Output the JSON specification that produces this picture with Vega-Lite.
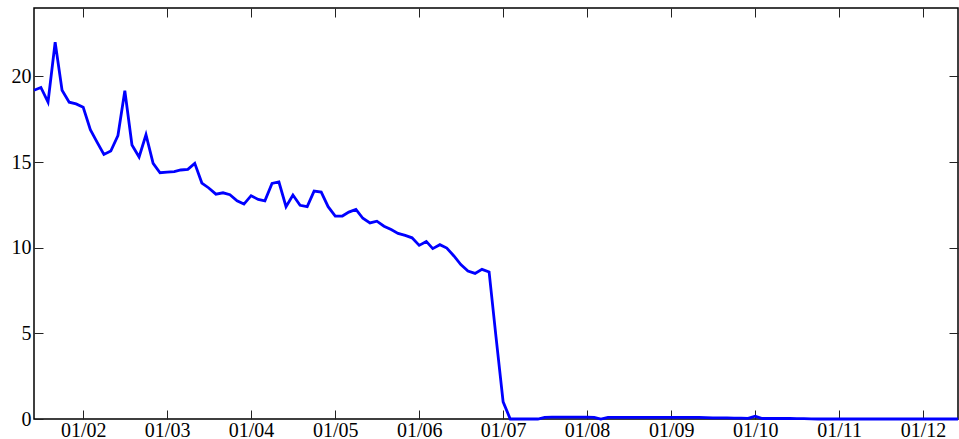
{
  "$schema": "https://vega.github.io/schema/vega-lite/v6.json",
  "width": 924,
  "height": 411,
  "autosize": {"type": "none"},
  "padding": {"left": 34, "top": 8, "right": 1, "bottom": 20},
  "background": "white",
  "config": {
    "view": {"stroke": "black", "strokeWidth": 1.5},
    "axis": {
      "domain": false,
      "grid": false,
      "ticks": true,
      "tickSize": -9,
      "tickWidth": 1,
      "tickColor": "#222222",
      "labelFont": "Liberation Serif",
      "labelFontSize": 20,
      "labelColor": "black",
      "title": null
    }
  },
  "data": {
    "values": [
      {"date": "2001-06-01", "value": 19.2},
      {"date": "2001-07-01", "value": 19.36},
      {"date": "2001-08-01", "value": 18.5},
      {"date": "2001-09-01", "value": 22.0},
      {"date": "2001-10-01", "value": 19.2},
      {"date": "2001-11-01", "value": 18.5},
      {"date": "2001-12-01", "value": 18.4},
      {"date": "2002-01-01", "value": 18.2},
      {"date": "2002-02-01", "value": 16.9},
      {"date": "2002-03-01", "value": 16.2},
      {"date": "2002-04-01", "value": 15.45},
      {"date": "2002-05-01", "value": 15.65},
      {"date": "2002-06-01", "value": 16.55},
      {"date": "2002-07-01", "value": 19.17},
      {"date": "2002-08-01", "value": 16.0},
      {"date": "2002-09-01", "value": 15.3},
      {"date": "2002-10-01", "value": 16.6},
      {"date": "2002-11-01", "value": 14.93},
      {"date": "2002-12-01", "value": 14.38},
      {"date": "2003-01-01", "value": 14.42},
      {"date": "2003-02-01", "value": 14.44},
      {"date": "2003-03-01", "value": 14.54},
      {"date": "2003-04-01", "value": 14.58},
      {"date": "2003-05-01", "value": 14.93},
      {"date": "2003-06-01", "value": 13.78},
      {"date": "2003-07-01", "value": 13.49},
      {"date": "2003-08-01", "value": 13.13},
      {"date": "2003-09-01", "value": 13.21},
      {"date": "2003-10-01", "value": 13.1},
      {"date": "2003-11-01", "value": 12.74},
      {"date": "2003-12-01", "value": 12.55},
      {"date": "2004-01-01", "value": 13.04},
      {"date": "2004-02-01", "value": 12.82},
      {"date": "2004-03-01", "value": 12.74},
      {"date": "2004-04-01", "value": 13.76},
      {"date": "2004-05-01", "value": 13.84},
      {"date": "2004-06-01", "value": 12.4},
      {"date": "2004-07-01", "value": 13.08},
      {"date": "2004-08-01", "value": 12.48},
      {"date": "2004-09-01", "value": 12.4},
      {"date": "2004-10-01", "value": 13.31},
      {"date": "2004-11-01", "value": 13.25},
      {"date": "2004-12-01", "value": 12.4},
      {"date": "2005-01-01", "value": 11.85},
      {"date": "2005-02-01", "value": 11.85},
      {"date": "2005-03-01", "value": 12.08},
      {"date": "2005-04-01", "value": 12.24},
      {"date": "2005-05-01", "value": 11.72},
      {"date": "2005-06-01", "value": 11.45},
      {"date": "2005-07-01", "value": 11.55},
      {"date": "2005-08-01", "value": 11.26},
      {"date": "2005-09-01", "value": 11.06},
      {"date": "2005-10-01", "value": 10.84},
      {"date": "2005-11-01", "value": 10.72},
      {"date": "2005-12-01", "value": 10.58},
      {"date": "2006-01-01", "value": 10.14},
      {"date": "2006-02-01", "value": 10.37},
      {"date": "2006-03-01", "value": 9.95},
      {"date": "2006-04-01", "value": 10.18},
      {"date": "2006-05-01", "value": 9.98},
      {"date": "2006-06-01", "value": 9.52},
      {"date": "2006-07-01", "value": 9.02},
      {"date": "2006-08-01", "value": 8.64},
      {"date": "2006-09-01", "value": 8.5},
      {"date": "2006-10-01", "value": 8.74},
      {"date": "2006-11-01", "value": 8.59},
      {"date": "2006-12-01", "value": 4.8},
      {"date": "2007-01-01", "value": 1.0},
      {"date": "2007-02-01", "value": 0},
      {"date": "2007-03-01", "value": 0},
      {"date": "2007-04-01", "value": 0},
      {"date": "2007-05-01", "value": 0},
      {"date": "2007-06-01", "value": 0},
      {"date": "2007-07-01", "value": 0.1},
      {"date": "2007-08-01", "value": 0.11},
      {"date": "2007-09-01", "value": 0.11},
      {"date": "2007-10-01", "value": 0.11},
      {"date": "2007-11-01", "value": 0.11},
      {"date": "2007-12-01", "value": 0.11},
      {"date": "2008-01-01", "value": 0.11},
      {"date": "2008-02-01", "value": 0.1},
      {"date": "2008-03-01", "value": 0},
      {"date": "2008-04-01", "value": 0.09},
      {"date": "2008-05-01", "value": 0.1},
      {"date": "2008-06-01", "value": 0.1},
      {"date": "2008-07-01", "value": 0.1},
      {"date": "2008-08-01", "value": 0.1},
      {"date": "2008-09-01", "value": 0.1},
      {"date": "2008-10-01", "value": 0.1},
      {"date": "2008-11-01", "value": 0.1},
      {"date": "2008-12-01", "value": 0.1},
      {"date": "2009-01-01", "value": 0.1},
      {"date": "2009-02-01", "value": 0.1},
      {"date": "2009-03-01", "value": 0.1},
      {"date": "2009-04-01", "value": 0.1},
      {"date": "2009-05-01", "value": 0.09},
      {"date": "2009-06-01", "value": 0.08},
      {"date": "2009-07-01", "value": 0.07},
      {"date": "2009-08-01", "value": 0.06},
      {"date": "2009-09-01", "value": 0.06},
      {"date": "2009-10-01", "value": 0.05},
      {"date": "2009-11-01", "value": 0.05},
      {"date": "2009-12-01", "value": 0.04},
      {"date": "2010-01-01", "value": 0.16},
      {"date": "2010-02-01", "value": 0.03},
      {"date": "2010-03-01", "value": 0.03},
      {"date": "2010-04-01", "value": 0.03},
      {"date": "2010-05-01", "value": 0.03},
      {"date": "2010-06-01", "value": 0.03},
      {"date": "2010-07-01", "value": 0.02},
      {"date": "2010-08-01", "value": 0.02},
      {"date": "2010-09-01", "value": 0.01},
      {"date": "2010-10-01", "value": 0},
      {"date": "2010-11-01", "value": 0},
      {"date": "2010-12-01", "value": 0},
      {"date": "2011-01-01", "value": 0},
      {"date": "2011-02-01", "value": 0},
      {"date": "2011-03-01", "value": 0},
      {"date": "2011-04-01", "value": 0},
      {"date": "2011-05-01", "value": 0},
      {"date": "2011-06-01", "value": 0},
      {"date": "2011-07-01", "value": 0},
      {"date": "2011-08-01", "value": 0},
      {"date": "2011-09-01", "value": 0},
      {"date": "2011-10-01", "value": 0},
      {"date": "2011-11-01", "value": 0},
      {"date": "2011-12-01", "value": 0},
      {"date": "2012-01-01", "value": 0},
      {"date": "2012-02-01", "value": 0},
      {"date": "2012-03-01", "value": 0},
      {"date": "2012-04-01", "value": 0},
      {"date": "2012-05-01", "value": 0},
      {"date": "2012-06-01", "value": 0}
    ]
  },
  "layer": [
    {
      "mark": {"type": "line", "color": "#0000ff", "strokeWidth": 2.8, "clip": false},
      "encoding": {
        "x": {
          "field": "date", "type": "temporal",
          "scale": {"type": "utc", "domain": [{"year": 2001, "month": 6, "date": 1, "utc": true}, {"year": 2012, "month": 6, "date": 1, "utc": true}]},
          "axis": {
            "orient": "bottom", "format": "%m/%y", "labelPadding": 10,
            "values": [
              {"year": 2002, "month": 1, "date": 1, "utc": true},
              {"year": 2003, "month": 1, "date": 1, "utc": true},
              {"year": 2004, "month": 1, "date": 1, "utc": true},
              {"year": 2005, "month": 1, "date": 1, "utc": true},
              {"year": 2006, "month": 1, "date": 1, "utc": true},
              {"year": 2007, "month": 1, "date": 1, "utc": true},
              {"year": 2008, "month": 1, "date": 1, "utc": true},
              {"year": 2009, "month": 1, "date": 1, "utc": true},
              {"year": 2010, "month": 1, "date": 1, "utc": true},
              {"year": 2011, "month": 1, "date": 1, "utc": true},
              {"year": 2012, "month": 1, "date": 1, "utc": true}
            ]
          }
        },
        "y": {
          "field": "value", "type": "quantitative",
          "scale": {"domain": [0, 24], "nice": false},
          "axis": {"orient": "left", "values": [0, 5, 10, 15, 20], "labelPadding": 12}
        }
      }
    },
    {
      "mark": {"type": "line", "strokeOpacity": 0},
      "encoding": {
        "x": {
          "field": "date", "type": "temporal",
          "axis": {
            "orient": "top", "labels": false,
            "values": [
              {"year": 2002, "month": 1, "date": 1, "utc": true},
              {"year": 2003, "month": 1, "date": 1, "utc": true},
              {"year": 2004, "month": 1, "date": 1, "utc": true},
              {"year": 2005, "month": 1, "date": 1, "utc": true},
              {"year": 2006, "month": 1, "date": 1, "utc": true},
              {"year": 2007, "month": 1, "date": 1, "utc": true},
              {"year": 2008, "month": 1, "date": 1, "utc": true},
              {"year": 2009, "month": 1, "date": 1, "utc": true},
              {"year": 2010, "month": 1, "date": 1, "utc": true},
              {"year": 2011, "month": 1, "date": 1, "utc": true},
              {"year": 2012, "month": 1, "date": 1, "utc": true}
            ]
          }
        },
        "y": {
          "field": "value", "type": "quantitative",
          "axis": {"orient": "right", "labels": false, "values": [0, 5, 10, 15, 20]}
        }
      }
    }
  ],
  "resolve": {"axis": {"x": "independent", "y": "independent"}}
}
